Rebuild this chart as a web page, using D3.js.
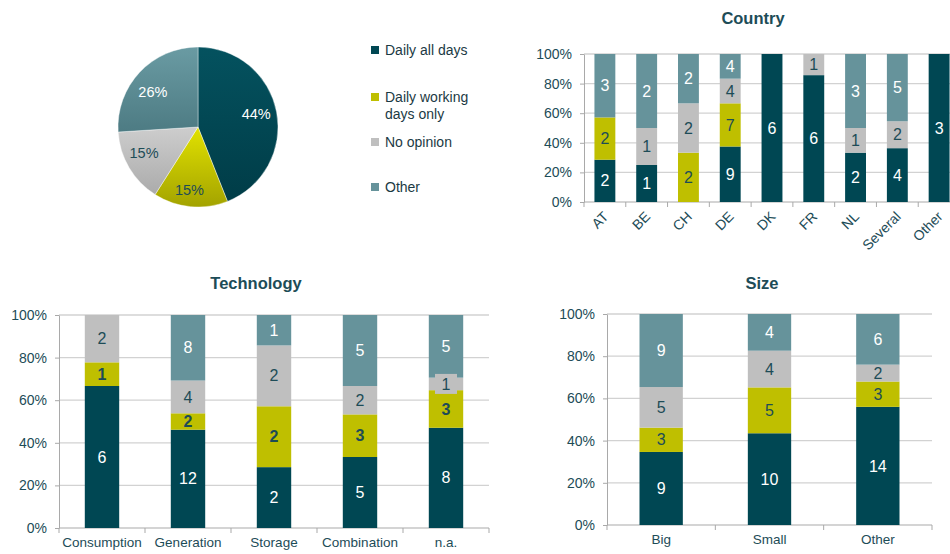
<!DOCTYPE html>
<head>
  <meta charset="utf-8">
  <script src="https://d3js.org/d3.v7.min.js"></script>
  <style>
body { margin:0; background:#fff; }
text { font-family: "Liberation Sans", Arial, sans-serif; }
.title { font-size: 16.5px; font-weight: bold; fill: #1d4c57; text-anchor: middle; }
.axis text { font-size: 14px; fill: #1d4c57; }
.cat text { font-size: 13.5px; fill: #1d4c57; }
.axis path, .axis line { stroke: #a9a9a9; }
.grid line { stroke: #d2d2d2; stroke-width: 1.3; }
.legend text { font-size: 14px; fill: #1b3a44; }
.val { font-size: 16px; text-anchor: middle; }
.pval { font-size: 14.5px; text-anchor: middle; }
  </style>
</head>

<body>
  <script>
// series shared by all charts
const seriesNames = ['Daily all days', 'Daily working days only', 'No opinion', 'Other']
const colors = ['#004753', '#bfbf00', '#bfbfbf', '#66939b']
const labelColors = ['#ffffff', '#1d4c57', '#1d4c57', '#ffffff']

// pie (percent)
const pieValues = [44, 15, 15, 26]

// Country
const countryCats = ['AT', 'BE', 'CH', 'DE', 'DK', 'FR', 'NL', 'Several', 'Other']
const countryDaily = [2, 1, 0, 9, 6, 6, 2, 4, 3]
const countryWorking = [2, 0, 2, 7, 0, 0, 0, 0, 0]
const countryNoOpinion = [0, 1, 2, 4, 0, 1, 1, 2, 0]
const countryOther = [3, 2, 2, 4, 0, 0, 3, 5, 0]

// Technology
const techCats = ['Consumption', 'Generation', 'Storage', 'Combination', 'n.a.']
const techDaily = [6, 12, 2, 5, 8]
const techWorking = [1, 2, 2, 3, 3]
const techNoOpinion = [2, 4, 2, 2, 1]
const techOther = [0, 8, 1, 5, 5]

// Size
const sizeCats = ['Big', 'Small', 'Other']
const sizeDaily = [9, 10, 14]
const sizeWorking = [3, 5, 3]
const sizeNoOpinion = [5, 4, 2]
const sizeOther = [9, 4, 6]

const yTicks = [0, 0.2, 0.4, 0.6, 0.8, 1]

const svg = d3.select('body').append('svg')
	.attr('width', 950)
	.attr('height', 554)

// gradients for the pie slices
const defs = svg.append('defs')
const shade = [['#04525f', '#003c47'], ['#e2e200', '#a3a300'], ['#cdcdcd', '#ababab'], ['#6a9ba3', '#4d7b83']]
shade.forEach((s, i) => {
	const g = defs.append('linearGradient')
		.attr('id', 'pg' + i)
		.attr('x1', 0).attr('y1', 0).attr('x2', 0).attr('y2', 1)
	g.append('stop').attr('offset', '0%').attr('stop-color', s[0])
	g.append('stop').attr('offset', '100%').attr('stop-color', s[1])
})

// ---- pie
const pieR = 80
const pieG = svg.append('g').attr('transform', 'translate(198,127)')
const arcs = d3.pie().sort(null).value(d => d)(pieValues)
const arc = d3.arc().innerRadius(0).outerRadius(pieR)
const labelArc = d3.arc().innerRadius(pieR * 0.74).outerRadius(pieR * 0.74)
const labelNudge = [[0, -2], [-3, 4], [-3, -4], [-2, 5]]

pieG.selectAll('path')
	.data(arcs)
	.enter().append('path')
	.attr('d', arc)
	.attr('fill', (d, i) => `url(#pg${i})`)
	.attr('stroke', '#ffffff')
	.attr('stroke-width', 0.4)

pieG.selectAll('.pval')
	.data(arcs)
	.enter().append('text')
	.attr('class', 'pval')
	.attr('transform', (d, i) => {
		const c = labelArc.centroid(d)
		return `translate(${c[0] + labelNudge[i][0]},${c[1] + labelNudge[i][1]})`
	})
	.attr('dy', '0.35em')
	.attr('fill', (d, i) => labelColors[i])
	.text(d => d.data + '%')

// legend
const legendY = [50, 97, 142, 187]
const legend = svg.append('g').attr('class', 'legend')
seriesNames.forEach((name, i) => {
	const row = legend.append('g').attr('transform', `translate(375,${legendY[i]})`)
	row.append('rect').attr('x', -4).attr('y', -4).attr('width', 8).attr('height', 8).attr('fill', colors[i])
	const t = row.append('text').attr('x', 10).attr('dy', '0.35em')
	if (i === 1) {
		t.append('tspan').attr('x', 10).text('Daily working')
		t.append('tspan').attr('x', 10).attr('dy', '1.2em').text('days only')
	} else {
		t.text(name)
	}
})

// ---- stacked 100% bars
function stackedChart(o) {
	const rows = o.cats.map((c, i) => ({ cat: c, s0: o.series[0][i], s1: o.series[1][i], s2: o.series[2][i], s3: o.series[3][i] }))
	const stacked = d3.stack()
		.keys(['s0', 's1', 's2', 's3'])
		.offset(d3.stackOffsetExpand)(rows)

	const x = d3.scaleBand().domain(o.cats).range([o.left, o.right])
	const y = d3.scaleLinear().domain([0, 1]).range([o.bottom, o.top])
	const g = svg.append('g')

	g.append('text').attr('class', 'title')
		.attr('x', o.titleX).attr('y', o.titleY)
		.attr('dy', '0.35em')
		.text(o.title)

	g.append('g').attr('class', 'grid')
		.selectAll('line')
		.data(yTicks.slice(1))
		.enter().append('line')
		.attr('x1', o.left).attr('x2', o.right)
		.attr('y1', d => y(d)).attr('y2', d => y(d))

	g.append('g').attr('class', 'axis')
		.attr('transform', `translate(${o.left},0)`)
		.call(d3.axisLeft(y).tickValues(yTicks).tickFormat(d3.format('.0%')).tickSize(4).tickSizeOuter(0).tickPadding(8))

	// x axis line with ticks at band edges
	const edges = o.cats.map(c => x(c)).concat([o.right])
	const xa = g.append('g').attr('class', 'axis')
	xa.append('line').attr('x1', o.left).attr('x2', o.right).attr('y1', o.bottom).attr('y2', o.bottom)
	xa.selectAll('.edge')
		.data(edges)
		.enter().append('line')
		.attr('x1', d => d).attr('x2', d => d)
		.attr('y1', o.bottom).attr('y2', o.bottom + 5)

	const bw = x.bandwidth() * o.barRatio
	const layer = g.selectAll('.layer')
		.data(stacked)
		.enter().append('g')
		.attr('fill', (d, i) => colors[i])

	layer.selectAll('rect')
		.data(d => d)
		.enter().append('rect')
		.attr('x', d => x(d.data.cat) + (x.bandwidth() - bw) / 2)
		.attr('width', bw)
		.attr('y', d => y(d[1]))
		.attr('height', d => y(d[0]) - y(d[1]))

	stacked.forEach((s, i) => {
		s.forEach(d => {
			const v = d.data['s' + i]
			if (!v) return
			const cx = x(d.data.cat) + x.bandwidth() / 2
			const cy = (y(d[0]) + y(d[1])) / 2
			const h = y(d[0]) - y(d[1])
			if (h < 14) {
				g.append('rect')
					.attr('x', cx - 11).attr('y', cy - 10)
					.attr('width', 22).attr('height', 20)
					.attr('fill', colors[i])
			}
			g.append('text').attr('class', 'val')
				.attr('x', cx).attr('y', cy)
				.attr('dy', '0.35em')
				.attr('fill', labelColors[i])
				.attr('font-weight', o.boldYellow && i === 1 ? 'bold' : null)
				.text(v)
		})
	})

	// category labels
	const cat = g.append('g').attr('class', 'cat')
	if (o.rotate) {
		cat.selectAll('text')
			.data(o.cats)
			.enter().append('text')
			.attr('transform', d => `translate(${x(d) + x.bandwidth() / 2 + 1},${o.bottom + 12}) rotate(-45)`)
			.attr('text-anchor', 'end')
			.attr('dy', '0.35em')
			.style('font-size', '14px')
			.text(d => d)
	} else {
		cat.attr('transform', `translate(0,${o.bottom})`)
			.call(d3.axisBottom(x).tickSize(0).tickPadding(9))
		cat.select('.domain').remove()
	}
}

stackedChart({
	title: 'Country', titleX: 753, titleY: 18,
	cats: countryCats,
	series: [countryDaily, countryWorking, countryNoOpinion, countryOther],
	left: 584, right: 960, top: 54, bottom: 202,
	barRatio: 0.5, rotate: true
})

stackedChart({
	title: 'Technology', titleX: 256, titleY: 283,
	cats: techCats,
	series: [techDaily, techWorking, techNoOpinion, techOther],
	left: 59, right: 489, top: 315, bottom: 528,
	barRatio: 0.4, boldYellow: true
})

stackedChart({
	title: 'Size', titleX: 762, titleY: 283,
	cats: sizeCats,
	series: [sizeDaily, sizeWorking, sizeNoOpinion, sizeOther],
	left: 607, right: 932, top: 314, bottom: 525,
	barRatio: 0.4
})
  </script>
</body>
